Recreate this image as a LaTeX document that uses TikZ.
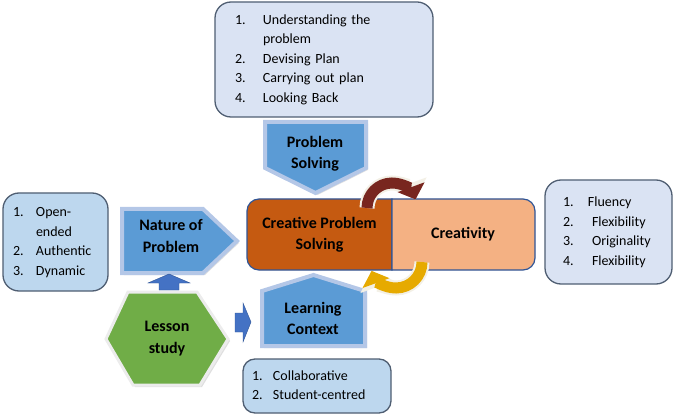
\documentclass[tikz,border=0pt]{standalone}
\usepackage{fontspec}
\setmainfont{Carlito}
\usepackage{tikz}
\usetikzlibrary{positioning,arrows.meta,shadows}
\definecolor{boxline}{HTML}{4F5E72}
\definecolor{paleblue}{HTML}{DAE3F3}
\definecolor{lightblue}{HTML}{BDD7EE}
\definecolor{midblue}{HTML}{5B9BD5}
\definecolor{rimblue}{HTML}{B4C7E7}
\definecolor{darkblue}{HTML}{2F5597}
\definecolor{arrowblue}{HTML}{4472C4}
\definecolor{burnt}{HTML}{C55A11}
\definecolor{peach}{HTML}{F4B183}
\definecolor{leaf}{HTML}{70AD47}
\definecolor{maroon}{HTML}{78261F}
\definecolor{gold}{HTML}{E6AA00}
\definecolor{cream}{HTML}{F3F0E6}
\tikzset{every picture/.style={x=1pt,y=1pt}}
\tikzset{list box/.style={draw=boxline,line width=1.3pt,rounded corners=16pt,align=left,inner ysep=0pt,font=\fontsize{14}{19.5}\selectfont}}
\tikzset{pentagon/.style={fill=midblue,draw=rimblue,line width=4pt,line join=miter,drop shadow={shadow xshift=2pt,shadow yshift=-2pt,opacity=0.25}}}
\tikzset{label text/.style={font=\fontsize{16}{21.5}\selectfont\bfseries,align=center}}
\tikzset{block arrow/.style={fill=arrowblue,draw=darkblue,line width=0.4pt}}
\tikzset{curl/.style={line width=11pt,-{Triangle[width=28pt,length=13pt]},preaction={draw=cream,line width=15pt,-{Triangle[width=35pt,length=17pt]}}}}

\begin{document}
\begin{tikzpicture}
  \useasboundingbox (0,0) rectangle (674,418);
  % lists
  \node[list box,fill=paleblue,text width=178pt,inner xsep=20pt,minimum height=115pt] (steps) at (324,358.5)
    {\begin{tabular}{@{}p{28pt}@{}l@{}}
      1. & Understanding the\\ & problem\\ 2. & Devising Plan\\ 3. & Carrying out plan\\ 4. & Looking Back
    \end{tabular}};
  \node[list box,fill=paleblue,text width=91pt,inner xsep=18pt,minimum height=104pt] (traits) at (608.5,186)
    {\begin{tabular}{@{}p{25pt}@{}l@{}}
      1. & Fluency\\ 2. & \hspace{4pt}Flexibility\\ 3. & \hspace{4pt}Originality\\ 4. & \hspace{4pt}Flexibility
    \end{tabular}};
  \node[list box,fill=lightblue,text width=85pt,inner xsep=10pt,minimum height=98pt] (kinds) at (55.5,176)
    {\begin{tabular}{@{}p{23pt}@{}l@{}}
      1. & Open-\\ & ended\\ 2. & Authentic\\ 3. & Dynamic
    \end{tabular}};
  \node[list box,fill=lightblue,text width=130pt,inner xsep=9pt,minimum height=54pt,rounded corners=12pt] (setting) at (317,32)
    {\begin{tabular}{@{}p{21pt}@{}l@{}}
      1. & Collaborative\\ 2. & Student-centred
    \end{tabular}};
  % pentagons
  \draw[pentagon] (265,296) -- (366,296) -- (366,250) -- (315.5,225) -- (265,250) -- cycle;
  \draw[pentagon] (122,209) -- (203,209) -- (237,177) -- (203,145) -- (122,145) -- cycle;
  \draw[pentagon] (262,72) -- (262,127) -- (313.5,143) -- (365,127) -- (365,72) -- cycle;
  \node[label text] (probsolve) at (315,264.5) {Problem\\Solving};
  \node[label text] (nature) at (171,182) {Nature of\\Problem};
  \node[label text] (learning) at (313,99.5) {Learning\\Context};
  % lesson study
  \draw[fill=leaf,draw=white!85!gray,line width=3pt,drop shadow={shadow xshift=2pt,shadow yshift=-2pt,opacity=0.25}]
    (128,126) -- (197,126) -- (228,79) -- (200,33) -- (133,33) -- (106,79) -- cycle;
  \node[label text] (lesson) at (167,79.5) {Lesson\\study};
  \draw[block arrow] (159,128) -- (159,135) -- (148,135) -- (169,144) -- (190,135) -- (179,135) -- (179,128) -- cycle;
  \draw[block arrow] (235,86) -- (235,105) -- (243,105) -- (243,115) -- (251,96) -- (243,76) -- (243,86) -- cycle;
  % centre
  \draw[fill=burnt,draw=darkblue,line width=1.2pt] (392,219) -- (259,219) arc[start angle=90,end angle=180,radius=12pt]
    -- (247,160) arc[start angle=180,end angle=270,radius=12pt] -- (392,148) -- cycle;
  \draw[fill=peach,draw=darkblue,line width=1.2pt] (392,219) -- (523,219) arc[start angle=90,end angle=0,radius=12pt]
    -- (535,160) arc[start angle=0,end angle=-90,radius=12pt] -- (392,148) -- cycle;
  \node[label text] (cps) at (319.5,183.5) {Creative Problem\\Solving};
  \node[label text] (creativity) at (463,183.5) {Creativity};
  \draw[curl,maroon] (367,210) arc[start angle=180,end angle=20,radius=25pt];
  \draw[curl,gold] (422,156) arc[start angle=0,end angle=-160,radius=26pt];
\end{tikzpicture}
\end{document}
